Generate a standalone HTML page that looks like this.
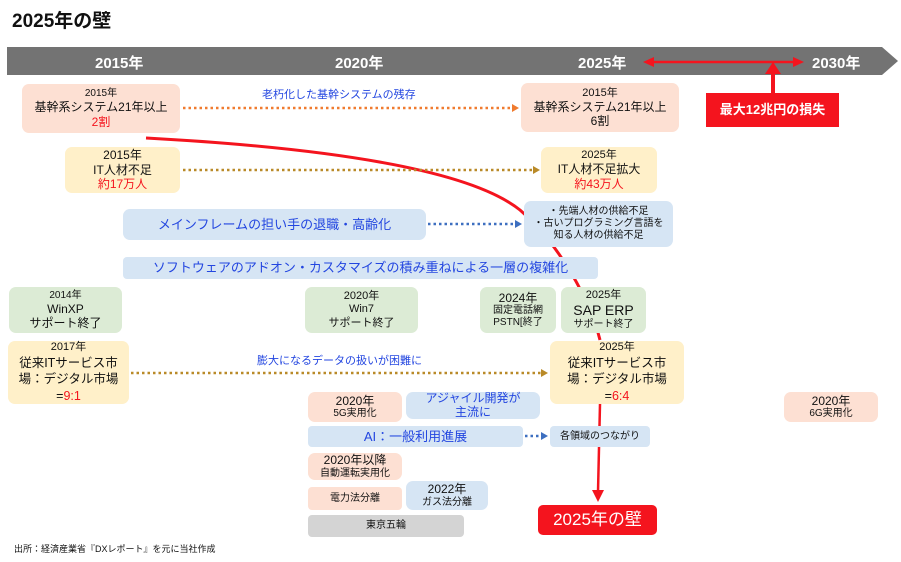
<!DOCTYPE html>
<html><head><meta charset="utf-8"><style>
body{margin:0;width:901px;height:562px;background:#fff;position:relative;overflow:hidden;font-family:"Liberation Sans","Noto Sans CJK JP",sans-serif;color:#111}
.b{position:absolute;border-radius:7px;display:flex;flex-direction:column;align-items:center;justify-content:center;text-align:center;line-height:1.2;font-size:12px}
.p{background:#fde0d3}.y{background:#fff0c9}.u{background:#d6e5f4}.g{background:#dcebd5}.gr{background:#d4d4d4}
.r{color:#f4141e}.bl{color:#2346e0}
.t{position:absolute;font-size:11px}
svg{position:absolute;left:0;top:0}
.yr{font-weight:bold;color:#fff;font-size:15px;top:52px}
</style></head><body>
<div class="t" style="left:12px;top:6px;font-size:19px;font-weight:bold">2025年の壁</div>
<svg width="901" height="562">
<polygon points="7,47 882,47 898,61 882,75 7,75" fill="#737373"/>
<path d="M146,138 C330,148 470,170 520,210 C560,245 590,300 600,340" stroke="#f4141e" stroke-width="3" fill="none"/>
<line x1="600" y1="404" x2="598" y2="492" stroke="#f4141e" stroke-width="2.5"/>
<polygon points="592,490 604,490 598,502" fill="#f4141e"/>
<line x1="652" y1="62" x2="795" y2="62" stroke="#f4141e" stroke-width="2.5"/>
<polygon points="643,62 654,57 654,67" fill="#f4141e"/><polygon points="804,62 793,57 793,67" fill="#f4141e"/>
<line x1="773" y1="72" x2="773" y2="94" stroke="#f4141e" stroke-width="4"/>
<polygon points="765,74 781,74 773,62" fill="#f4141e"/>
<line x1="183" y1="108" x2="512" y2="108" stroke="#f07b2f" stroke-width="2.5" stroke-dasharray="2.5,3"/>
<polygon points="512,104 519,108 512,112" fill="#f07b2f"/>
<line x1="183" y1="170" x2="533" y2="170" stroke="#b98a28" stroke-width="2.5" stroke-dasharray="2.5,3"/>
<polygon points="533,166 540,170 533,174" fill="#b98a28"/>
<line x1="428" y1="224" x2="515" y2="224" stroke="#3d6fc0" stroke-width="2.5" stroke-dasharray="2.5,3"/>
<polygon points="515,220 522,224 515,228" fill="#3d6fc0"/>
<line x1="131" y1="373" x2="541" y2="373" stroke="#b98a28" stroke-width="2.5" stroke-dasharray="2.5,3"/>
<polygon points="541,369 548,373 541,377" fill="#b98a28"/>
<line x1="525" y1="436" x2="541" y2="436" stroke="#3d6fc0" stroke-width="2.5" stroke-dasharray="2.5,3"/>
<polygon points="541,432 548,436 541,440" fill="#3d6fc0"/>
</svg>
<div class="t yr" style="left:95px">2015年</div>
<div class="t yr" style="left:335px">2020年</div>
<div class="t yr" style="left:578px">2025年</div>
<div class="t yr" style="left:812px">2030年</div>
<div class="b" style="left:706px;top:93px;width:133px;height:34px;background:#f4141e;color:#fff;font-weight:bold;font-size:13px;border-radius:0">最大12兆円の損失</div>
<div class="t bl" style="left:262px;top:86px">老朽化した基幹システムの残存</div>
<div class="t bl" style="left:257px;top:352px">膨大になるデータの扱いが困難に</div>
<div class="b p" style="left:22px;top:84px;width:158px;height:49px"><span style="font-size:10px">2015年</span>基幹系システム21年以上<span class="r">2割</span></div>
<div class="b p" style="left:521px;top:83px;width:158px;height:49px"><span style="font-size:11px">2015年</span>基幹系システム21年以上<span>6割</span></div>
<div class="b y" style="left:65px;top:147px;width:115px;height:46px">2015年<br>IT人材不足<span class="r">約17万人</span></div>
<div class="b y" style="left:541px;top:147px;width:116px;height:46px"><span style="font-size:11px">2025年</span>IT人材不足拡大<span class="r">約43万人</span></div>
<div class="b u bl" style="left:123px;top:209px;width:303px;height:31px;font-size:13px">メインフレームの担い手の退職・高齢化</div>
<div class="b u" style="left:524px;top:201px;width:149px;height:46px;font-size:10px">・先端人材の供給不足<br>・古いプログラミング言語を<br>知る人材の供給不足</div>
<div class="b u bl" style="left:123px;top:257px;width:475px;height:22px;font-size:13px;border-radius:4px">ソフトウェアのアドオン・カスタマイズの積み重ねによる一層の複雑化</div>
<div class="b g" style="left:9px;top:287px;width:113px;height:46px"><span style="font-size:10px">2014年</span>WinXP<br>サポート終了</div>
<div class="b g" style="left:305px;top:287px;width:113px;height:46px;font-size:11px">2020年<br>Win7<br>サポート終了</div>
<div class="b g" style="left:480px;top:287px;width:76px;height:46px;font-size:10px"><span style="font-size:12px">2024年</span>固定電話網<br>PSTN[終了</div>
<div class="b g" style="left:561px;top:287px;width:85px;height:46px;font-size:10px"><span style="font-size:11px">2025年</span><span style="font-size:14px">SAP ERP</span>サポート終了</div>
<div class="b y" style="left:8px;top:341px;width:121px;height:63px;font-size:12.5px;line-height:1.35"><span style="font-size:11px">2017年</span>従来ITサービス市<br>場：デジタル市場<span>=<span class="r">9:1</span></span></div>
<div class="b y" style="left:550px;top:341px;width:134px;height:63px;font-size:12.5px;line-height:1.35"><span style="font-size:11px">2025年</span>従来ITサービス市<br>場：デジタル市場<span>=<span class="r">6:4</span></span></div>
<div class="b p" style="left:308px;top:392px;width:94px;height:30px;font-size:10px"><span style="font-size:12px">2020年</span>5G実用化</div>
<div class="b u bl" style="left:406px;top:392px;width:134px;height:27px;font-size:12px;line-height:1.1">アジャイル開発が<br>主流に</div>
<div class="b u bl" style="left:308px;top:426px;width:215px;height:21px;font-size:13px;border-radius:4px">AI：一般利用進展</div>
<div class="b u" style="left:550px;top:426px;width:100px;height:21px;font-size:10px;border-radius:4px">各領域のつながり</div>
<div class="b p" style="left:308px;top:453px;width:94px;height:27px;font-size:10px;line-height:1.1"><span style="font-size:12px">2020年以降</span>自動運転実用化</div>
<div class="b p" style="left:308px;top:487px;width:94px;height:23px;font-size:10px;border-radius:4px">電力法分離</div>
<div class="b u" style="left:406px;top:481px;width:82px;height:29px;font-size:10px;line-height:1.1"><span style="font-size:12px">2022年</span>ガス法分離</div>
<div class="b gr" style="left:308px;top:515px;width:156px;height:22px;font-size:10px;border-radius:4px">東京五輪</div>
<div class="b" style="left:538px;top:505px;width:119px;height:30px;background:#f4141e;color:#fff;font-size:17px;border-radius:5px">2025年の壁</div>
<div class="b p" style="left:784px;top:392px;width:94px;height:30px;font-size:10px"><span style="font-size:12px">2020年</span>6G実用化</div>
<div class="t" style="left:14px;top:542px;font-size:9px">出所：経済産業省『DXレポート』を元に当社作成</div>
</body></html>
